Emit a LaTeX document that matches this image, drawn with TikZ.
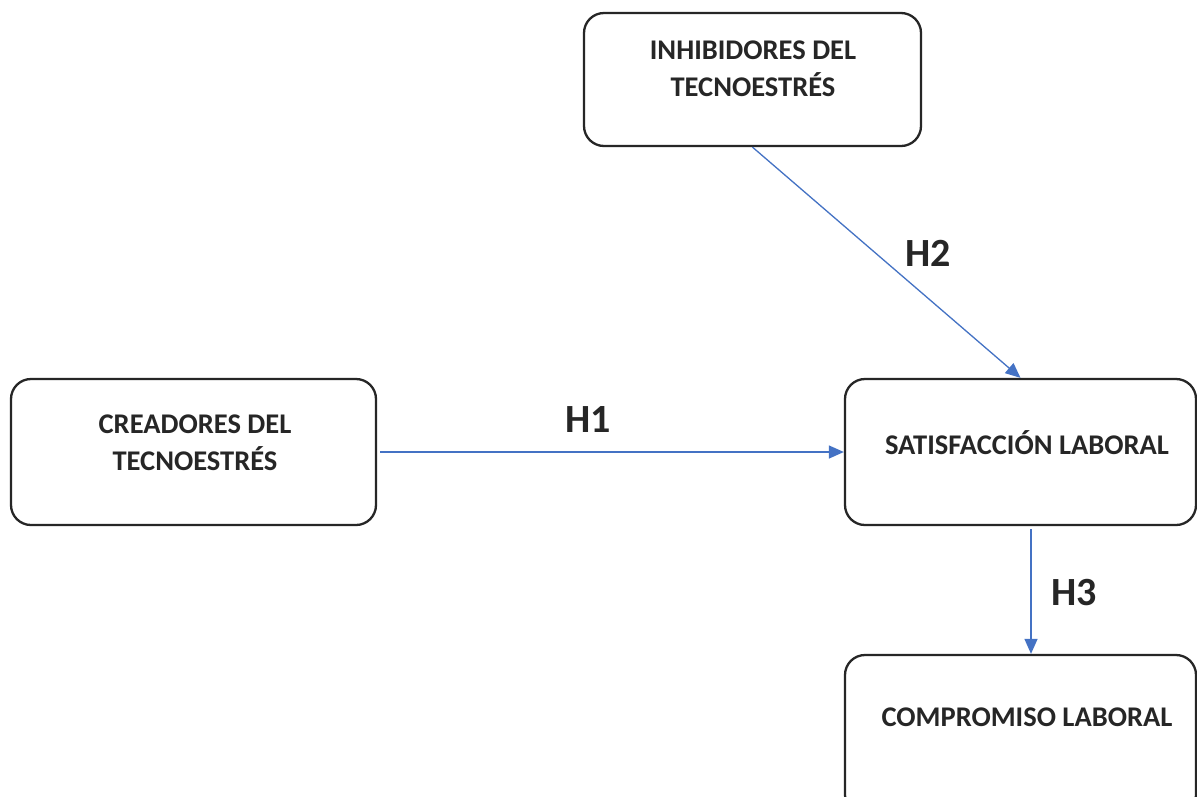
\documentclass[tikz,border=0pt]{standalone}
\usepackage{fontspec}
\setmainfont{Carlito}
\usetikzlibrary{arrows.meta,calc}
\definecolor{arrblue}{HTML}{4472C4}
\definecolor{txt}{HTML}{262626}
\tikzset{
  box/.style={draw=black!85, line width=2.3pt, rounded corners=20pt, inner sep=0pt},
  boxtext/.style={font=\bfseries\fontsize{28.5}{37}\selectfont, text=txt, align=center, inner sep=0pt},
  hlabel/.style={font=\bfseries\fontsize{40}{44}\selectfont, text=txt, inner sep=0pt},
  arr/.style={draw=arrblue, line width=1.3pt, -{Triangle[length=15pt,width=13pt]}}
}
\begin{document}
\begin{tikzpicture}[x=1pt,y=-1pt]
\useasboundingbox (0,0) rectangle (1197,796);
\clip (0,0) rectangle (1197,796);
\fill[white] (0,0) rectangle (1197,796);
% boxes
\node[box, minimum width=337pt, minimum height=133pt] (inh) at (752.5,79.5) {};
\node[box, minimum width=365pt, minimum height=146pt] (cre) at (193.5,452) {};
\node[box, minimum width=351pt, minimum height=146pt] (sat) at (1020.5,452) {};
\node[box, minimum width=351pt, minimum height=160pt] (com) at (1020.5,735) {};
% texts
\node[boxtext] (inht) at (753,69) {INHIBIDORES DEL\\TECNOESTRÉS};
\node[boxtext] (cret) at (195,443) {CREADORES DEL\\TECNOESTRÉS};
\node[boxtext] (satt) at (1027,443) {SATISFACCIÓN LABORAL};
\node[boxtext] (comt) at (1027,717) {COMPROMISO LABORAL};
% labels
\node[hlabel] (h1) at (588,420) {H1};
\node[hlabel] (h2) at (928,253) {H2};
\node[hlabel] (h3) at (1074,593) {H3};
% arrows
\draw[arr] (inh.south) -- (sat.north);
\draw[arr] ([xshift=3pt]cre.east) -- (sat.west);
\draw[arr] ([xshift=10.5pt,yshift=-3pt]sat.south) -- ([xshift=10.5pt]com.north);
\end{tikzpicture}
\end{document}
